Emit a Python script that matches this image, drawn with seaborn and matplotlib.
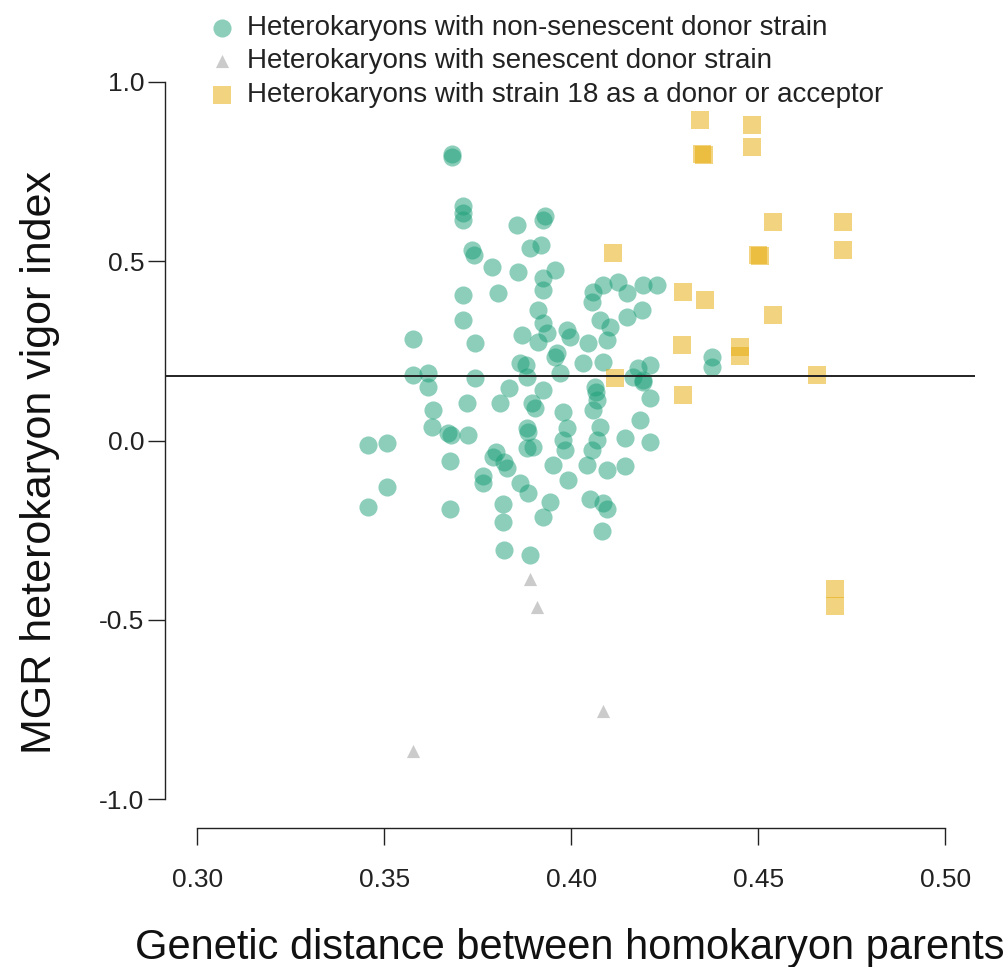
import matplotlib
matplotlib.use("Agg")
import matplotlib.pyplot as plt
import seaborn as sns
import pandas as pd

# group labels
labels = ["Heterokaryons with non-senescent donor strain",
          "Heterokaryons with senescent donor strain",
          "Heterokaryons with strain 18 as a donor or acceptor"]

# non-senescent donor (green circles)
green_x = [0.3682, 0.3682, 0.3711, 0.3711, 0.3711, 0.3735, 0.3740, 0.3789, 0.3805, 0.3711,
           0.3711, 0.3578, 0.3743, 0.3856, 0.3930, 0.3925, 0.3890, 0.3920, 0.3858, 0.3957,
           0.3925, 0.3925, 0.4059, 0.4086, 0.4126, 0.4150, 0.4193, 0.4230, 0.4056, 0.4078,
           0.4150, 0.4190, 0.4104, 0.4096, 0.3912, 0.3925, 0.3936, 0.3869, 0.3989, 0.3997,
           0.4045, 0.3912, 0.3963, 0.4377, 0.4377, 0.3578, 0.3618, 0.3618, 0.3743, 0.3631,
           0.3722, 0.3628, 0.3671, 0.3680, 0.3725, 0.3457, 0.3508, 0.3676, 0.3508, 0.3457,
           0.3676, 0.3765, 0.3765, 0.3800, 0.3820, 0.3810, 0.3835, 0.3818, 0.3818, 0.3820,
           0.3864, 0.3880, 0.3957, 0.4032, 0.4086, 0.3970, 0.3882, 0.3925, 0.3896, 0.3904,
           0.4064, 0.4069, 0.4066, 0.3979, 0.3989, 0.4059, 0.4078, 0.3882, 0.3885, 0.4180,
           0.4211, 0.4193, 0.4211, 0.4184, 0.4144, 0.4211, 0.3882, 0.3898, 0.3979, 0.3984,
           0.4069, 0.4056, 0.4043, 0.3952, 0.3992, 0.4096, 0.4144, 0.3864, 0.3885, 0.3944,
           0.3925, 0.4050, 0.4086, 0.4096, 0.4083, 0.3890, 0.3791, 0.3829, 0.4166, 0.4193]
green_y = [0.800, 0.790, 0.655, 0.635, 0.615, 0.530, 0.518, 0.485, 0.412, 0.407,
           0.337, 0.284, 0.273, 0.602, 0.625, 0.615, 0.538, 0.546, 0.471, 0.476,
           0.454, 0.421, 0.415, 0.435, 0.443, 0.412, 0.435, 0.435, 0.387, 0.337,
           0.345, 0.365, 0.318, 0.281, 0.365, 0.329, 0.301, 0.295, 0.309, 0.290,
           0.273, 0.276, 0.245, 0.234, 0.206, 0.184, 0.189, 0.150, 0.175, 0.086,
           0.106, 0.039, 0.022, 0.015, 0.017, -0.011, -0.006, -0.058, -0.128, -0.184,
           -0.192, -0.100, -0.117, -0.033, -0.061, 0.106, 0.148, -0.178, -0.228, -0.304,
           0.217, 0.210, 0.234, 0.217, 0.220, 0.189, 0.178, 0.142, 0.106, 0.092,
           0.150, 0.114, 0.135, 0.081, 0.036, 0.086, 0.039, 0.036, 0.025, 0.203,
           0.212, 0.162, 0.120, 0.058, 0.008, -0.003, -0.020, -0.017, 0.003, -0.025,
           0.003, -0.025, -0.067, -0.067, -0.109, -0.081, -0.072, -0.117, -0.145, -0.170,
           -0.214, -0.164, -0.173, -0.192, -0.253, -0.318, -0.045, -0.075, 0.178, 0.170]

# senescent donor (grey triangles)
grey_x = [0.3890, 0.3910, 0.4086, 0.3578]
grey_y = [-0.387, -0.465, -0.755, -0.866]

# strain 18 (orange squares)
orange_x = [0.4345, 0.4484, 0.4484, 0.4350, 0.4355, 0.4540, 0.4727, 0.4727, 0.4500, 0.4505, 0.4300,
            0.4358, 0.4540, 0.4297, 0.4452, 0.4452, 0.4658, 0.4300, 0.4112, 0.4118, 0.4705, 0.4705]
orange_y = [0.894, 0.880, 0.819, 0.800, 0.795, 0.610, 0.610, 0.532, 0.518, 0.515, 0.415,
            0.393, 0.351, 0.267, 0.262, 0.235, 0.184, 0.128, 0.524, 0.175, -0.415, -0.462]

mgr_reference = 0.18

x_ticks = [0.30, 0.35, 0.40, 0.45, 0.50]
y_ticks = [-1.0, -0.5, 0.0, 0.5, 1.0]

sns.set_style("white")
plt.rcParams['font.family'] = ['Liberation Sans', 'DejaVu Sans']

green_df = pd.DataFrame({'dist': green_x, 'mgr': green_y})
grey_df = pd.DataFrame({'dist': grey_x, 'mgr': grey_y})
orange_df = pd.DataFrame({'dist': orange_x, 'mgr': orange_y})

fig = plt.figure(figsize=(10.08, 9.67), dpi=100)
ax = fig.add_axes([0.1637, 0.1437, 0.8036, 0.8013])

sns.scatterplot(data=green_df, x='dist', y='mgr', ax=ax, marker='o', s=170,
                color='#1b9e77', alpha=0.5, linewidth=0, label=labels[0])
sns.scatterplot(data=grey_df, x='dist', y='mgr', ax=ax, marker='^', s=90,
                color='#999999', alpha=0.5, linewidth=0, label=labels[1])
sns.scatterplot(data=orange_df, x='dist', y='mgr', ax=ax, marker='s', s=150,
                color='#e6a802', alpha=0.5, linewidth=0, label=labels[2])

ax.axhline(mgr_reference, color='#222222', lw=1.4)

ax.set_xlim(0.2914, 0.508)
ax.set_ylim(-1.08, 1.08)
ax.set_xticks(x_ticks)
ax.set_xticklabels([f'{t:.2f}' for t in x_ticks])
ax.set_yticks(y_ticks)
ax.set_yticklabels([f'{t:.1f}' for t in y_ticks])

for side in ['top', 'right']:
    ax.spines[side].set_visible(False)
ax.spines['left'].set_bounds(-1.0, 1.0)
ax.spines['bottom'].set_bounds(0.30, 0.50)
for side in ['left', 'bottom']:
    ax.spines[side].set_color('#222222')
    ax.spines[side].set_linewidth(1.0)

ax.tick_params(axis='both', direction='out', length=12, width=1, color='#222222',
               labelsize=19, labelcolor='#222222', bottom=True, left=True)
ax.tick_params(axis='x', pad=17)
ax.tick_params(axis='y', pad=3)

ax.set_xlabel('Genetic distance between homokaryon parents', fontsize=30, color='#111111')
ax.set_ylabel('MGR heterokaryon vigor index', fontsize=31, color='#111111')
ax.xaxis.label.set_va('center')
ax.yaxis.label.set_va('center')
ax.xaxis.set_label_coords(0.5, -0.155)
ax.yaxis.set_label_coords(-0.154, 0.472)

leg = ax.legend(loc='upper left', bbox_to_anchor=(208 / 1008, 1 - 15 / 967),
                bbox_transform=fig.transFigure, frameon=False, fontsize=20,
                handlelength=1.0, handletextpad=0.4, labelspacing=0.27,
                borderpad=0, borderaxespad=0, markerscale=1.0)
for t in leg.get_texts():
    t.set_color('#222222')

fig.savefig('out.png', dpi=100)
